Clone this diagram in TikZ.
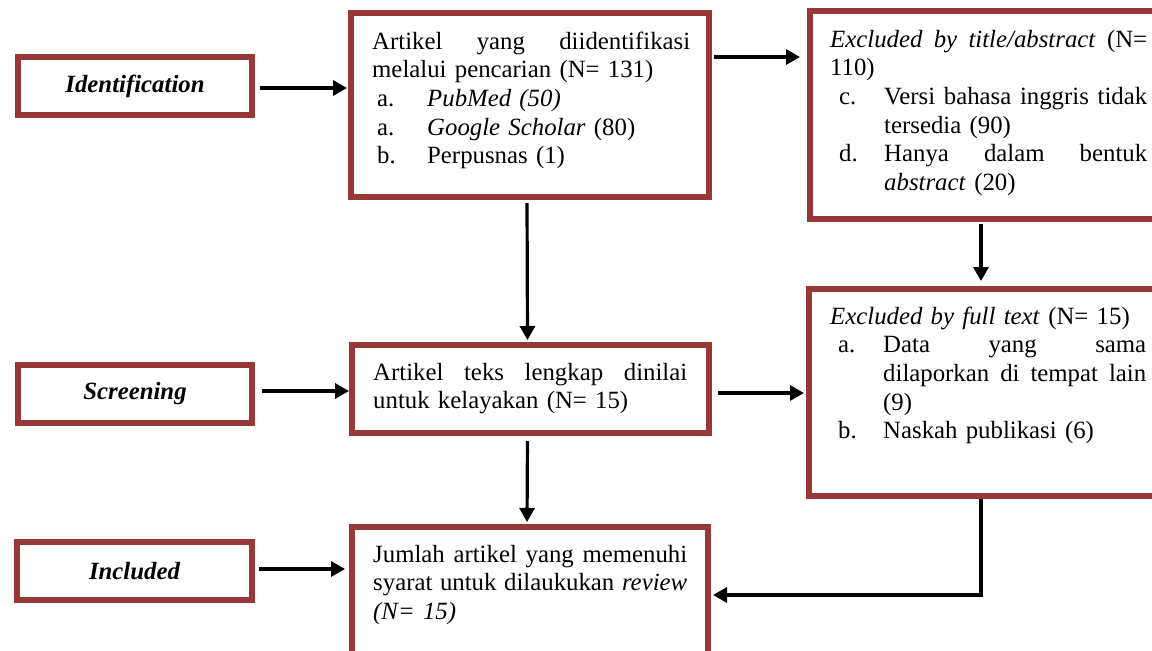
\documentclass[tikz,border=0pt]{standalone}
\usepackage{fontspec}
\setmainfont{Liberation Serif}
\usetikzlibrary{arrows.meta,calc}
\definecolor{boxred}{RGB}{153,57,55}
\setlength{\parindent}{0pt}
\tikzset{
  box/.style={draw=boxred, line width=5.6pt, inner sep=0pt, fill=white},
  lbl/.style={box, font=\fontsize{24.8pt}{28.6pt}\selectfont\bfseries\itshape},
  txt/.style={anchor=north west, inner sep=0pt, align=left,
    font=\fontsize{24.8pt}{28.6pt}\selectfont},
  arr/.style={line width=3.2pt, -{Triangle[length=14pt,width=15pt]}}
}
\begin{document}
\begin{tikzpicture}[x=1pt,y=1pt]
\useasboundingbox (0,0) rectangle (1152,-651);
\clip (0,0) rectangle (1152,-651);
\fill[white] (0,0) rectangle (1152,-651);

% left stage labels
\node[lbl, minimum width=234.4pt, minimum height=58.4pt] (id) at (135,-86) {Identification};
\node[lbl, minimum width=234.4pt, minimum height=58.4pt] (sc) at (135,-394) {Screening};
\node[lbl, minimum width=235.4pt, minimum height=58.4pt] (in) at (134.5,-571) {Included};

% middle column
\node[box, minimum width=358.4pt, minimum height=184.4pt] (m1) at (530,-105) {};
\node[box, minimum width=357.4pt, minimum height=88.4pt] (m2) at (530.5,-389) {};
\node[box, minimum width=356.4pt, minimum height=170.4pt] (m3) at (530,-612) {};

% right column (right edges run off the picture)
\node[box, minimum width=349.4pt, minimum height=208.4pt] (r1) at (984.5,-115) {};
\node[box, minimum width=350.4pt, minimum height=207.4pt] (r2) at (984,-392.5) {};

% texts
\node[txt, text width=318pt] (t1) at ($(m1.north west)+(24,-19)$) {%
\strut Artikel\hfill yang\hfill diidentifikasi\\
melalui pencarian (N= 131)\\
\hspace*{5pt}\makebox[50pt][l]{a.}\textit{PubMed (50)}\\
\hspace*{5pt}\makebox[50pt][l]{a.}\textit{Google Scholar} (80)\\
\hspace*{5pt}\makebox[50pt][l]{b.}Perpusnas (1)};

\node[txt, text width=317pt] (t2) at ($(r1.north west)+(23,-19)$) {%
\strut\textit{Excluded}\hfill\textit{by}\hfill\textit{title/abstract}\hfill (N=\\
110)\\
\hspace*{9pt}\makebox[45pt][l]{c.}Versi\hfill bahasa\hfill inggris\hfill tidak\\
\hspace*{54pt}tersedia (90)\\
\hspace*{9pt}\makebox[45pt][l]{d.}Hanya\hfill dalam\hfill bentuk\\
\hspace*{54pt}\textit{abstract} (20)};

\node[txt, text width=316pt] (t3) at ($(r2.north west)+(24,-18)$) {%
\strut\textit{Excluded by full text} (N= 15)\\
\hspace*{8pt}\makebox[45pt][l]{a.}Data\hfill yang\hfill sama\\
\hspace*{53pt}dilaporkan\hfill di\hfill tempat\hfill lain\\
\hspace*{53pt}(9)\\
\hspace*{8pt}\makebox[45pt][l]{b.}Naskah publikasi (6)};

\node[txt, text width=314pt] (t4) at ($(m2.north west)+(24,-18)$) {%
\strut Artikel\hfill teks\hfill lengkap\hfill dinilai\\
untuk kelayakan (N= 15)};

\node[txt, text width=314pt] (t5) at ($(m3.north west)+(24,-18)$) {%
\strut Jumlah\hfill artikel\hfill yang\hfill memenuhi\\
syarat\hfill untuk\hfill dilaukukan\hfill \textit{review}\\
\textit{(N= 15)}};

% connectors
\draw[arr, shorten <=5pt, shorten >=1pt] ([yshift=-2pt]id.east) -- ([yshift=-2pt]id.east -| m1.west);
\draw[arr, shorten <=7pt, shorten >=0pt] ([yshift=3pt]sc.east) -- ([yshift=3pt]sc.east -| m2.west);
\draw[arr, shorten <=4pt, shorten >=4pt] ([yshift=2pt]in.east) -- ([yshift=2pt]in.east -| m3.west);

\coordinate (a1) at ($(m1.north east)+(0,-47)$);
\draw[arr, shorten <=2pt, shorten >=7pt] (a1) -- (a1 -| r1.west);
\draw[arr, shorten <=6pt, shorten >=2pt] ([yshift=-4pt]m2.east) -- ([yshift=-4pt]m2.east -| r2.west);

\draw[arr, shorten <=3pt, shorten >=2pt] ([xshift=-3pt]m1.south) -- ([xshift=-3pt]m2.north);
\draw[arr, shorten <=5pt, shorten >=2pt] ([xshift=-3pt]m2.south) -- ([xshift=-3pt]m3.north);
\draw[arr, shorten <=2pt, shorten >=5pt] ([xshift=-3.5pt]r1.south) -- ([xshift=-3.5pt]r1.south |- r2.north);
\draw[arr, shorten >=2pt] ([xshift=-3pt]r2.south) |- ([yshift=17pt]m3.east);
\end{tikzpicture}
\end{document}
